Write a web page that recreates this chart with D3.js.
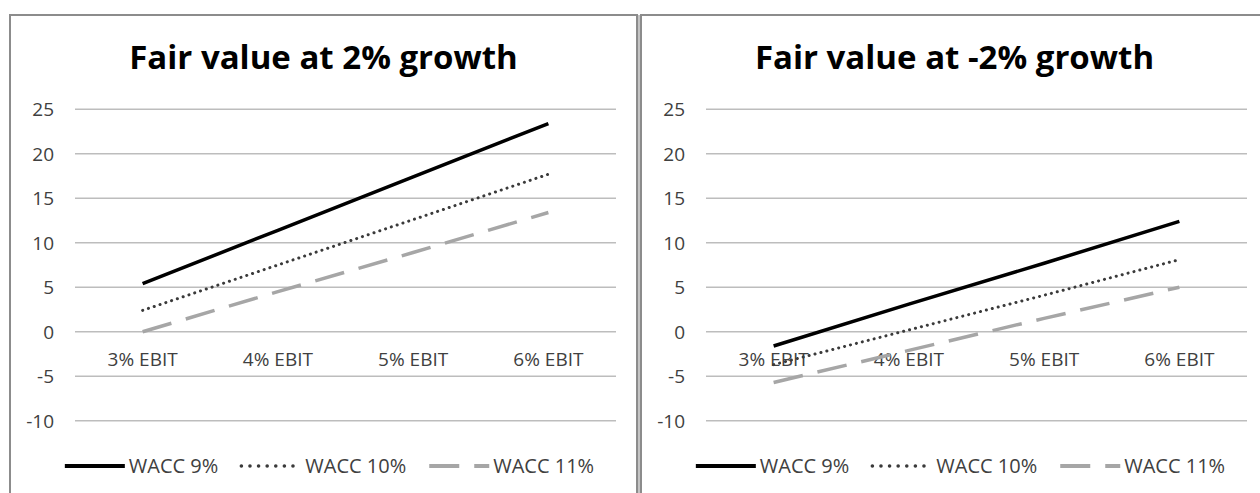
<!DOCTYPE html>
<html>
<head>
<meta charset="utf-8">
<script src="https://cdn.jsdelivr.net/npm/d3@7"></script>
<style>
  body { margin: 0; background: #fff; }
  svg { display: block; }
  text { font-family: "Open Sans", "Noto Sans", sans-serif; }
</style>
</head>
<body>
<div id="chart"></div>
<script>
// categories and tick labels
var categories = ["3% EBIT", "4% EBIT", "5% EBIT", "6% EBIT"];
var seriesNames = ["WACC 9%", "WACC 10%", "WACC 11%"];
var yTicks = [-10, -5, 0, 5, 10, 15, 20, 25];
var titles = ["Fair value at 2% growth", "Fair value at -2% growth"];

// values, 2% growth
var wacc9_g2 = [5.4, 11.4, 17.4, 23.4];
var wacc10_g2 = [2.4, 7.5, 12.6, 17.7];
var wacc11_g2 = [0.0, 4.5, 8.9, 13.4];

// -2% growth
var wacc9_gm2 = [-1.6, 3.1, 7.7, 12.4];
var wacc10_gm2 = [-3.7, 0.2, 4.1, 8.1];
var wacc11_gm2 = [-5.7, -2.1, 1.5, 5.0];

var W = 1260, H = 493;

// line styles per series
var styles = [
  { color: "#000000", width: 3.5, dash: null, cap: "butt" },
  { color: "#3a3a3a", width: 3, dash: "0.1,6", cap: "round" },
  { color: "#a6a6a6", width: 3.5, dash: "30,15", cap: "butt" }
];

var svg = d3.select("#chart").append("svg")
  .attr("width", W)
  .attr("height", H);

// grey strip between the two panels
svg.append("rect")
  .attr("x", 636).attr("y", 15)
  .attr("width", 6).attr("height", H)
  .attr("fill", "#c4c4c4");

var panels = [
  { x: 10, title: titles[0], data: [wacc9_g2, wacc10_g2, wacc11_g2] },
  { x: 641, title: titles[1], data: [wacc9_gm2, wacc10_gm2, wacc11_gm2] }
];

var panelW = 627;

panels.forEach(function (p) {
  var g = svg.append("g").attr("transform", "translate(" + p.x + ",0)");

  g.append("rect")
    .attr("x", 0).attr("y", 15)
    .attr("width", panelW).attr("height", H + 20)
    .attr("fill", "#fff")
    .attr("stroke", "#8c8c8c")
    .attr("stroke-width", 2);

  g.append("text")
    .attr("x", panelW / 2)
    .attr("y", 69)
    .attr("text-anchor", "middle")
    .attr("font-size", "33px")
    .attr("font-weight", "bold")
    .attr("fill", "#000")
    .text(p.title);

  var left = 65, right = 606;
  var x = d3.scalePoint().domain(categories).range([left, right]).padding(0.5);
  var y = d3.scaleLinear().domain([-10, 25]).range([420.7, 109.3]);

  // gridlines
  g.append("g")
    .selectAll("line")
    .data(yTicks)
    .enter().append("line")
    .attr("x1", left).attr("x2", right)
    .attr("y1", function (d) { return y(d); })
    .attr("y2", function (d) { return y(d); })
    .attr("stroke", "#bdbdbd")
    .attr("stroke-width", 1.5);

  // value labels
  g.append("g")
    .selectAll("text")
    .data(yTicks)
    .enter().append("text")
    .attr("x", left - 21)
    .attr("y", function (d) { return y(d); })
    .attr("dy", "0.36em")
    .attr("text-anchor", "end")
    .attr("font-size", "19px")
    .attr("fill", "#404040")
    .text(function (d) { return d; });

  // category labels sit under the zero line
  g.append("g")
    .selectAll("text")
    .data(categories)
    .enter().append("text")
    .attr("x", function (d) { return x(d); })
    .attr("y", y(0) + 34)
    .attr("text-anchor", "middle")
    .attr("font-size", "19px")
    .attr("fill", "#404040")
    .text(function (d) { return d; });

  var line = d3.line()
    .x(function (d, i) { return x(categories[i]); })
    .y(function (d) { return y(d); });

  // draw back to front so the solid line is on top
  [2, 1, 0].forEach(function (k) {
    var s = styles[k];
    g.append("path")
      .datum(p.data[k])
      .attr("d", line)
      .attr("fill", "none")
      .attr("stroke", s.color)
      .attr("stroke-width", s.width)
      .attr("stroke-dasharray", s.dash)
      .attr("stroke-linecap", s.cap);
  });

  // legend, laid out left to right and centred in the panel
  var legend = g.append("g");
  var lx = 0, ly = 466, gap = 23;
  seriesNames.forEach(function (name, k) {
    var s = styles[k];
    var item = legend.append("g").attr("transform", "translate(" + lx + ",0)");
    item.append("line")
      .attr("x1", 0).attr("x2", 60)
      .attr("y1", ly).attr("y2", ly)
      .attr("stroke", s.color)
      .attr("stroke-width", s.width + 0.5)
      .attr("stroke-dasharray", k == 1 ? "0.1,8.5" : s.dash)
      .attr("stroke-linecap", s.cap);
    var t = item.append("text")
      .attr("x", 64)
      .attr("y", ly + 7)
      .attr("font-size", "20px")
      .attr("fill", "#404040")
      .text(name);
    lx += 64 + t.node().getComputedTextLength() + gap;
  });
  lx -= gap;
  legend.attr("transform", "translate(" + (panelW / 2 + 6 - lx / 2) + ",0)");
});
</script>
</body>
</html>
